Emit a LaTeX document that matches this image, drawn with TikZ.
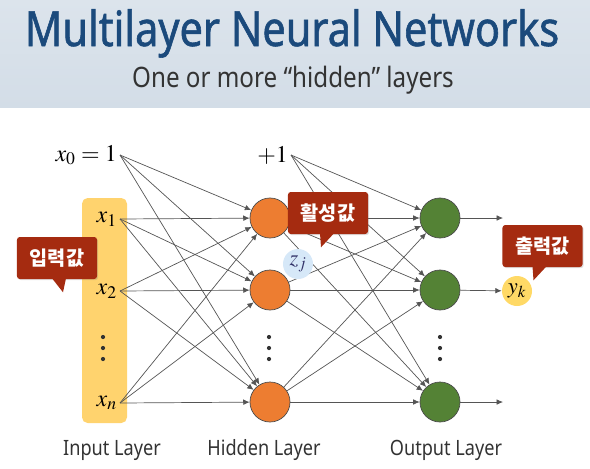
\documentclass[tikz,border=0pt]{standalone}
\usepackage{mathptmx}
\usepackage{fontspec}
\setmainfont{Noto Sans}
\newfontfamily\titlefont[FakeStretch=0.855, FakeBold=1.2]{Noto Sans}
\newfontfamily\narrowfont[FakeStretch=0.86]{Noto Sans}
\newfontfamily\krfont{Noto Sans CJK KR}
\usetikzlibrary{arrows.meta, positioning, shadows}

\definecolor{titleblue}{HTML}{1B4A7C}
\definecolor{hdrtop}{HTML}{DCE4EC}
\definecolor{hdrbot}{HTML}{D3DDE7}
\definecolor{callred}{HTML}{A52B10}
\definecolor{inyellow}{HTML}{FFD36E}
\definecolor{hidorange}{HTML}{ED7D31}
\definecolor{outgreen}{HTML}{548235}
\definecolor{zblue}{HTML}{D6E8F8}
\definecolor{ygold}{HTML}{FFD966}
\definecolor{linegray}{HTML}{555555}

\begin{document}
\begin{tikzpicture}[x=0.025cm, y=-0.025cm,
    neuron/.style={circle, draw=black!70, line width=0.5pt, minimum size=1cm, inner sep=0pt},
    hid/.style={neuron, fill=hidorange},
    outn/.style={neuron, fill=outgreen},
    var/.style={font=\fontsize{17}{17}\selectfont, inner sep=2pt},
    layer/.style={font=\narrowfont\fontsize{15}{15}\selectfont, text=black!80, anchor=base},
    dot/.style={circle, fill=black!80, inner sep=0pt, minimum size=3pt},
    bubble/.style={fill=callred, rounded corners=2pt, text=white, font=\krfont\bfseries\fontsize{14}{14}\selectfont,
        minimum width=2cm, minimum height=1.05cm, drop shadow={opacity=0.25, shadow xshift=0.8pt, shadow yshift=-0.8pt}},
    link/.style={draw=linegray, line width=0.5pt, -{Latex[length=1.6mm, width=1.4mm]}}
]
    % header
    \useasboundingbox (0,0) rectangle (590,468);
    \shade[top color=hdrtop, bottom color=hdrbot] (0,0) rectangle (590,107);
    \node[font=\titlefont\fontsize{34.5}{34.5}\selectfont, text=titleblue, anchor=base] (title) at (292,46) {Multilayer Neural Networks};
    \node[font=\narrowfont\fontsize{20}{20}\selectfont, text=black!80, anchor=base] (sub) at (293,87) {One or more “hidden” layers};

    % input layer
    \fill[inyellow, rounded corners=4pt] (82,198) rectangle (127,423);
    \node[var, anchor=east] (x0) at (120,155) {$x_0 =1$};
    \node[var, anchor=east] (x1) at (120,219) {$x_1$};
    \node[var, anchor=east] (x2) at (120,291) {$x_2$};
    \node[var, anchor=east] (xn) at (120,403) {$x_n$};
    \foreach \d in {337,348,359} \node[dot] at (103,\d) {};

    % hidden layer
    \node[var, anchor=east] (b) at (291,155) {$+1$};
    \node[hid] (h1) at (270,218) {};
    \node[hid] (h2) at (270,290) {};
    \node[hid] (h3) at (270,402) {};
    \foreach \d in {337,348,359} \node[dot] at (269,\d) {};

    % output layer
    \node[outn] (o1) at (440,218) {};
    \node[outn] (o2) at (440,290) {};
    \node[outn] (o3) at (440,402) {};
    \foreach \d in {337,348,359} \node[dot] at (440,\d) {};
    \node[circle, fill=ygold, minimum size=0.75cm, inner sep=0pt, font=\fontsize{16}{16}\selectfont] (yk) at (517,291) {$y_k$};
    \coordinate (e1) at (503,218);
    \coordinate (e3) at (503,402);

    % connections
    \foreach \s in {x0,x1,x2,xn}
        \foreach \t in {h1,h2,h3}
            \draw[link] (\s.east) -- (\t);
    \foreach \t in {o1,o2,o3}
        \draw[link] (b.east) -- (\t);
    \foreach \s in {h1,h2,h3}
        \foreach \t in {o1,o2,o3}
            \draw[link] (\s) -- (\t);
    \draw[link] (o1) -- (e1);
    \draw[link] (o2) -- (yk);
    \draw[link] (o3) -- (e3);

    \node[circle, fill=zblue, minimum size=0.75cm, inner sep=0pt, text=black!65!blue!60!gray, font=\fontsize{16}{16}\selectfont] (zj) at (298,264) {$z_j$};

    % callouts
    \node[bubble] (cin) at (57,258) {입력값};
    \fill[callred] (cin.south) ++(-5,-1) -- ++(11,14) -- ++(3,-14) -- cycle;
    \node[bubble] (chid) at (328,213) {활성값};
    \fill[callred] (chid.south) ++(-8,-1) -- ++(1,14) -- ++(13,-14) -- cycle;
    \node[bubble] (cout) at (542.5,246) {출력값};
    \fill[callred] (cout.south) ++(-10,-1) -- ++(1,14) -- ++(13,-14) -- cycle;

    % labels
    \node[layer] (lin) at (112,455) {Input Layer};
    \node[layer] (lhid) at (264,455) {Hidden Layer};
    \node[layer] (lout) at (446,455) {Output Layer};
\end{tikzpicture}
\end{document}
